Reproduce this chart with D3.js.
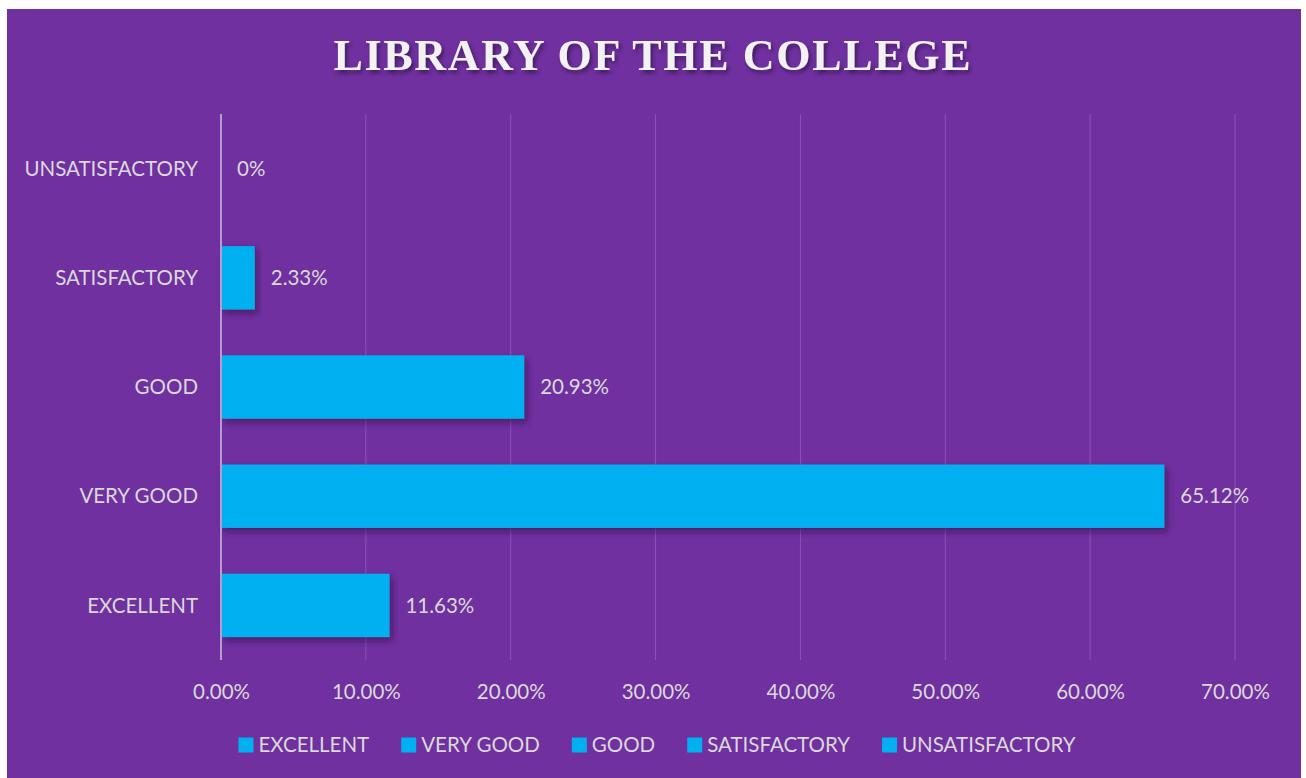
<!DOCTYPE html>
<html><head><meta charset="utf-8">
<script src="https://cdn.jsdelivr.net/npm/d3@7"></script>
<style>
html,body{margin:0;padding:0;background:#fff;}
svg{display:block;}
</style></head>
<body>
<svg id="chart" width="1306" height="778"></svg>
<script>
const title = "LIBRARY OF THE COLLEGE";
const categories = ["EXCELLENT", "VERY GOOD", "GOOD", "SATISFACTORY", "UNSATISFACTORY"];
const values = [0.1163, 0.6512, 0.2093, 0.0233, 0.0];
const valueLabels = ["11.63%", "65.12%", "20.93%", "2.33%", "0%"];
const xTicks = [0, 0.1, 0.2, 0.3, 0.4, 0.5, 0.6, 0.7];

const W = 1306, H = 778;
const bg = "#7030A0", barColor = "#00B0F0", textColor = "#D9D9D9";
const font = "Lato, 'Open Sans', sans-serif";
const fs = 20.5;

const svg = d3.select("#chart");
const defs = svg.append("defs");
const f1 = defs.append("filter").attr("id","tshadow").attr("x","-10%").attr("y","-30%").attr("width","120%").attr("height","160%");
f1.append("feDropShadow").attr("dx",2).attr("dy",3).attr("stdDeviation",2).attr("flood-color","#000").attr("flood-opacity",0.45);
const f2 = defs.append("filter").attr("id","bshadow").attr("x","-10%").attr("y","-20%").attr("width","130%").attr("height","150%");
f2.append("feDropShadow").attr("dx",3).attr("dy",4).attr("stdDeviation",3).attr("flood-color","#2a0a45").attr("flood-opacity",0.6);

svg.append("rect").attr("x",7).attr("y",9).attr("width",1294).attr("height",H-9).attr("fill",bg);

svg.append("text").attr("x",652).attr("y",70).attr("text-anchor","middle")
  .attr("font-family","'Liberation Serif','DejaVu Serif',serif").attr("font-weight","bold")
  .attr("font-size",44).attr("fill","#F2F2F2").attr("filter","url(#tshadow)")
  .attr("textLength",637).attr("lengthAdjust","spacing")
  .text(title);

const x = d3.scaleLinear().domain([0,0.7]).range([221,1235]);
const y = d3.scaleBand().domain(categories.slice().reverse()).range([114,660]).paddingInner(0.42).paddingOuter(0.21);

// gridlines
svg.append("g").selectAll("line").data(xTicks.slice(1)).join("line")
  .attr("x1",d=>x(d)).attr("x2",d=>x(d)).attr("y1",114).attr("y2",660)
  .attr("stroke","#8A55B5").attr("stroke-width",1);

// bars
svg.append("g").selectAll("rect").data(categories).join("rect")
  .attr("x",x(0)).attr("y",d=>y(d))
  .attr("width",(d,i)=>x(values[i])-x(0)).attr("height",y.bandwidth())
  .attr("fill",barColor).attr("filter",(d,i)=>values[i]>0?"url(#bshadow)":null);

// axis line
svg.append("line").attr("x1",221).attr("x2",221).attr("y1",114).attr("y2",660)
  .attr("stroke","#B79BD3").attr("stroke-width",2);

// x tick labels via axis
const xAxis = d3.axisBottom(x).tickValues(xTicks).tickFormat(d=>(d*100).toFixed(2)+"%").tickSize(0).tickPadding(0);
const gx = svg.append("g").attr("transform","translate(0,699)").call(xAxis);
gx.select(".domain").remove();
gx.selectAll("text").attr("font-family",font).attr("font-size",fs).attr("fill",textColor).attr("dy",0);

// y labels via axis
const yAxis = d3.axisLeft(y).tickSize(0).tickPadding(0);
const gy = svg.append("g").attr("transform","translate(198,0)").call(yAxis);
gy.select(".domain").remove();
gy.selectAll("text").attr("font-family",font).attr("font-size",fs).attr("fill",textColor).attr("dy","0.35em");

// data labels
svg.append("g").selectAll("text").data(categories).join("text")
  .attr("x",(d,i)=>x(values[i])+16).attr("y",d=>y(d)+y.bandwidth()/2).attr("dy","0.35em")
  .attr("font-family",font).attr("font-size",fs).attr("fill",textColor)
  .text((d,i)=>valueLabels[i]);

// legend
const lg = svg.append("g");
let cx = 0;
categories.forEach(c=>{
  const g = lg.append("g");
  g.append("rect").attr("x",0).attr("y",-7.5).attr("width",15).attr("height",15).attr("fill",barColor);
  const t = g.append("text").attr("x",20).attr("y",0).attr("dy","0.35em").attr("font-family",font).attr("font-size",fs).attr("fill",textColor).text(c);
  g.attr("transform",`translate(${cx},0)`);
  cx += 20 + t.node().getComputedTextLength() + 32;
});
const lw = cx - 32;
lg.attr("transform",`translate(${(244+1070)/2 - lw/2},745)`);
</script>
</body></html>
